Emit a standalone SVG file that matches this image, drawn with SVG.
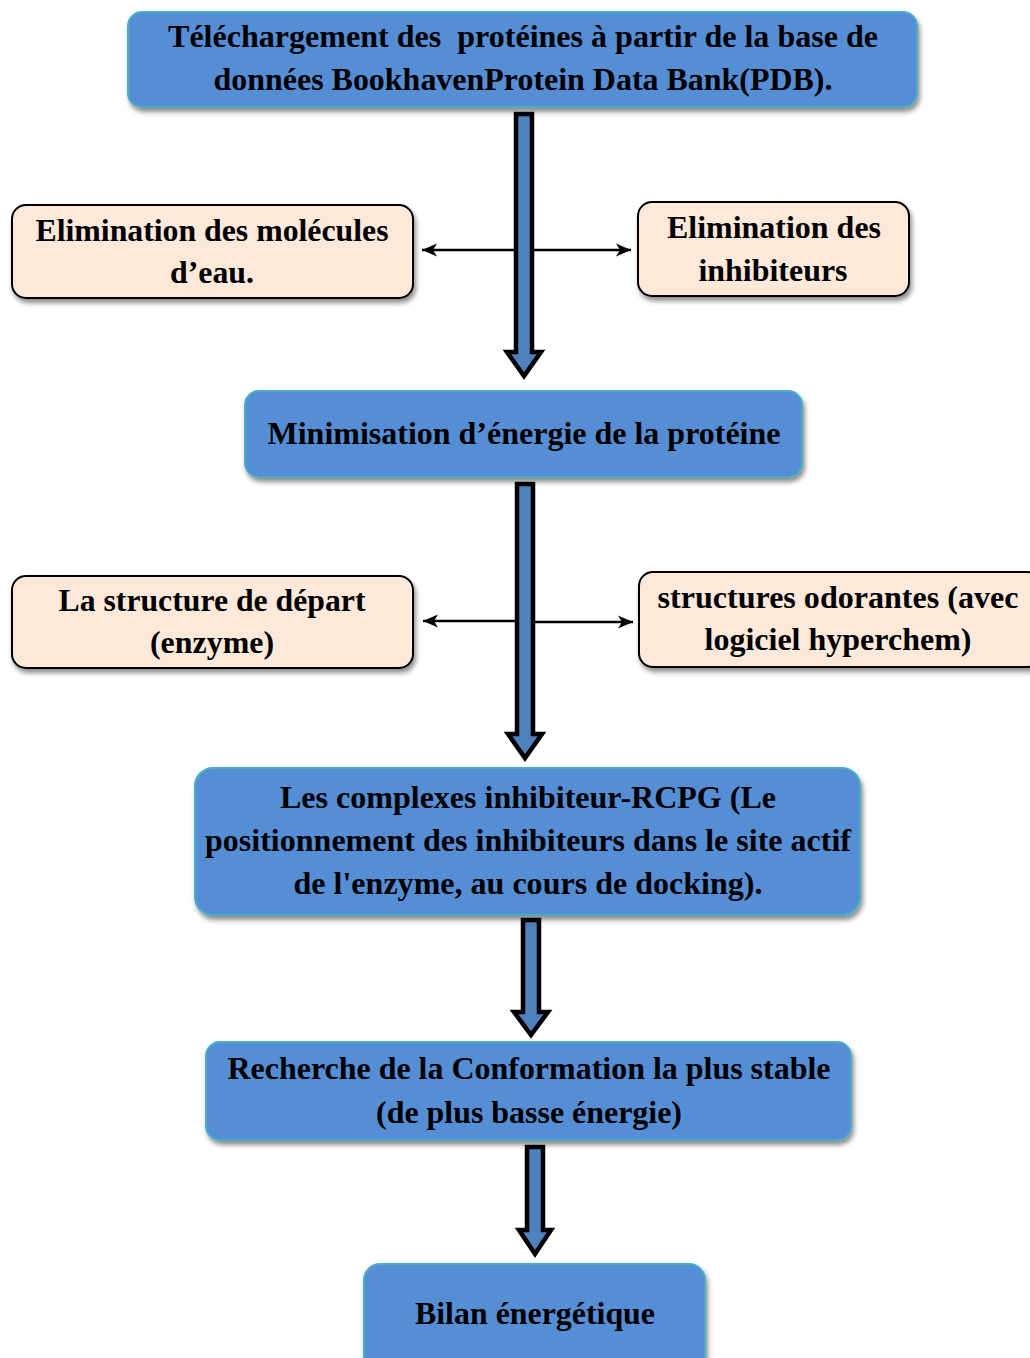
<svg xmlns="http://www.w3.org/2000/svg" width="1030" height="1358" viewBox="0 0 1030 1358">
<style>
.blue{fill:#558ed5;stroke:#4bacc6;stroke-width:2;filter:url(#sh)}
.peach{fill:#fde9d9;stroke:#000;stroke-width:2;filter:url(#sh)}
text{font-family:"Liberation Serif","Times New Roman",serif;font-weight:bold;font-size:32px;fill:#000;text-anchor:middle}
.blk{fill:#4f81bd;stroke:#000;stroke-width:4.5;stroke-linejoin:miter;stroke-miterlimit:10}
.ln{stroke:#000;stroke-width:2.5;fill:none;marker-end:url(#ah)}
</style>
<defs>
<filter id="sh" x="-10%" y="-20%" width="120%" height="150%">
<feDropShadow dx="2" dy="4" stdDeviation="2.5" flood-color="#000" flood-opacity="0.45"/>
</filter>
<marker id="ah" markerUnits="userSpaceOnUse" markerWidth="16" markerHeight="14" refX="15" refY="7" orient="auto">
<path d="M0,0.5 L15,7 L0,13.5 L4,7 Z" fill="#000"/>
</marker>
</defs>

<g id="connectors">
<line class="ln" x1="520" y1="250" x2="422" y2="250"/>
<line class="ln" x1="528" y1="250" x2="631" y2="250"/>
<line class="ln" x1="521" y1="621" x2="423" y2="621"/>
<line class="ln" x1="529" y1="622" x2="633" y2="622"/>
<polygon class="blk" points="516,114 532,114 532,352 541,352 524,376 507,352 516,352"/>
<polygon class="blk" points="517,484 533,484 533,734 542,734 525,758 508,734 517,734"/>
<polygon class="blk" points="523,920 539,920 539,1012 548,1012 531,1035 514,1012 523,1012"/>
<polygon class="blk" points="527,1147 543,1147 543,1230 551,1230 535,1254 519,1230 527,1230"/>
</g>

<g id="node-pdb">
<rect class="blue" x="128" y="12" width="789" height="95" rx="14"/>
<text x="523" y="47" textLength="710" lengthAdjust="spacingAndGlyphs" xml:space="preserve" style="white-space:pre">Téléchargement des  protéines à partir de la base de</text>
<text x="523" y="90" textLength="619" lengthAdjust="spacingAndGlyphs">données BookhavenProtein Data Bank(PDB).</text>
</g>

<g id="node-eau">
<rect class="peach" x="12" y="205" width="401" height="93" rx="14"/>
<text x="212" y="241" textLength="353" lengthAdjust="spacingAndGlyphs">Elimination des molécules</text>
<text x="212" y="283" textLength="84" lengthAdjust="spacingAndGlyphs">d’eau.</text>
</g>

<g id="node-inhib">
<rect class="peach" x="638" y="202" width="271" height="94" rx="14"/>
<text x="774" y="238" textLength="214" lengthAdjust="spacingAndGlyphs">Elimination des</text>
<text x="773" y="281" textLength="149" lengthAdjust="spacingAndGlyphs">inhibiteurs</text>
</g>

<g id="node-min">
<rect class="blue" x="245" y="391" width="557" height="86" rx="14"/>
<text x="524" y="444" textLength="513" lengthAdjust="spacingAndGlyphs">Minimisation d’énergie de la protéine</text>
</g>

<g id="node-depart">
<rect class="peach" x="12" y="576" width="401" height="92" rx="14"/>
<text x="212" y="611" textLength="307" lengthAdjust="spacingAndGlyphs">La structure de départ</text>
<text x="212" y="653" textLength="124" lengthAdjust="spacingAndGlyphs">(enzyme)</text>
</g>

<g id="node-odor">
<rect class="peach" x="639" y="572" width="402" height="95" rx="14"/>
<text x="838" y="608" textLength="361" lengthAdjust="spacingAndGlyphs">structures odorantes (avec</text>
<text x="838" y="650" textLength="267" lengthAdjust="spacingAndGlyphs">logiciel hyperchem)</text>
</g>

<g id="node-complex">
<rect class="blue" x="195" y="768" width="665" height="147" rx="18"/>
<text x="528" y="808" textLength="496" lengthAdjust="spacingAndGlyphs">Les complexes inhibiteur-RCPG (Le</text>
<text x="528" y="851" textLength="646" lengthAdjust="spacingAndGlyphs">positionnement des inhibiteurs dans le site actif</text>
<text x="528" y="894" textLength="469" lengthAdjust="spacingAndGlyphs">de l'enzyme, au cours de docking).</text>
</g>

<g id="node-conf">
<rect class="blue" x="206" y="1042" width="645" height="98" rx="14"/>
<text x="529" y="1079" textLength="603" lengthAdjust="spacingAndGlyphs">Recherche de la Conformation la plus stable</text>
<text x="529" y="1123" textLength="306" lengthAdjust="spacingAndGlyphs">(de plus basse énergie)</text>
</g>

<g id="node-bilan">
<rect class="blue" x="364" y="1264" width="341" height="110" rx="16"/>
<text x="535" y="1324" textLength="240" lengthAdjust="spacingAndGlyphs">Bilan énergétique</text>
</g>
</svg>
